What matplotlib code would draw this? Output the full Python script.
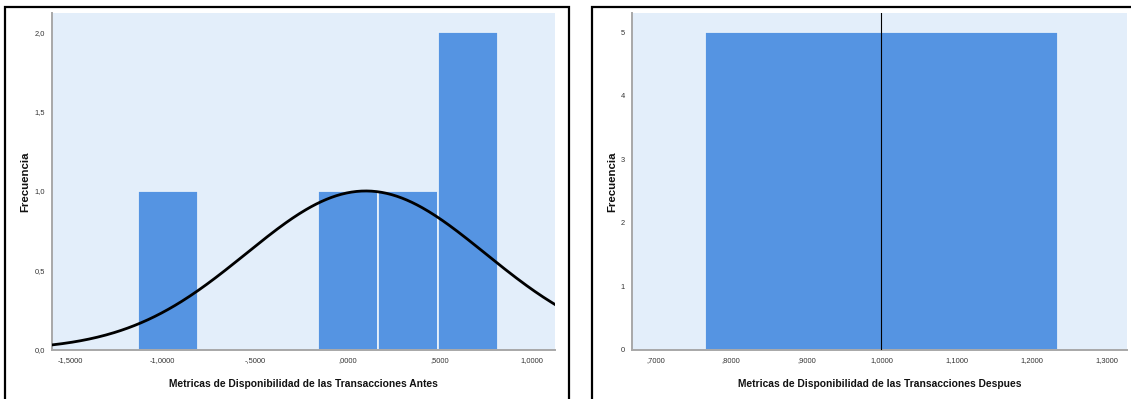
import matplotlib.pyplot as plt
import matplotlib.patches as patches
import numpy as np

plt.rcParams['font.family'] = ['Liberation Sans', 'DejaVu Sans']

# histogram "Antes": bin edges and counts
antes_edges = [-1.135, -0.81, -0.485, -0.16, 0.165, 0.49, 0.816]
antes_counts = [1, 0, 0, 1, 1, 2]
antes_mean = 0.10
antes_sd = 0.648
antes_xticks = [-1.5, -1.0, -0.5, 0.0, 0.5, 1.0]
antes_xlabels = ['-1,5000', '-1,0000', '-,5000', ',0000', ',5000', '1,0000']
antes_yticks = [0.0, 0.5, 1.0, 1.5, 2.0]
antes_ylabels = ['0,0', '0,5', '1,0', '1,5', '2,0']

# histogram "Despues": every value is 1, one bin
despues_edges = [0.765, 1.235]
despues_counts = [5]
despues_mean = 1.0
despues_xticks = [0.7, 0.8, 0.9, 1.0, 1.1, 1.2, 1.3]
despues_xlabels = [',7000', ',8000', ',9000', '1,0000', '1,1000', '1,2000', '1,3000']
despues_yticks = [0, 1, 2, 3, 4, 5]
despues_ylabels = ['0', '1', '2', '3', '4', '5']

BG = '#E3EEFA'
BAR = '#5594E2'
EDGE = '#E6F0FB'
W, H = 1131, 399


def style_axes(ax, xticks, xlabels, yticks, ylabels, xlabel, ylab_x):
    ax.set_facecolor(BG)
    for side in ['top', 'right']:
        ax.spines[side].set_visible(False)
    for side in ['left', 'bottom']:
        ax.spines[side].set_color('#A8A8A8')
        ax.spines[side].set_linewidth(1.4)
    ax.set_xticks(xticks)
    ax.set_xticklabels(xlabels)
    ax.set_yticks(yticks)
    ax.set_yticklabels(ylabels)
    ax.tick_params(length=0, labelsize=5.4, colors='#333333', pad=5)
    ax.set_xlabel(xlabel, fontsize=7.4, fontweight='bold', color='#111111',
                  labelpad=11)
    ax.set_ylabel('Frecuencia', fontsize=8.2, fontweight='bold',
                  color='#111111')
    ax.yaxis.set_label_coords(ylab_x, 0.5)


def draw_hist(ax, edges, counts):
    edges = np.array(edges)
    ax.bar(edges[:-1], counts, width=np.diff(edges), align='edge',
           color=BAR, edgecolor=EDGE, linewidth=1.3, zorder=2)


fig = plt.figure(figsize=(W / 100, H / 100), dpi=100)

# left panel
ax1 = fig.add_axes([52 / W, 1 - 350 / H, 503 / W, 337 / H])
draw_hist(ax1, antes_edges, antes_counts)
n = sum(antes_counts)
bw = antes_edges[1] - antes_edges[0]
xs = np.linspace(-1.6, 1.125, 300)
ys = n * bw * np.exp(-0.5 * ((xs - antes_mean) / antes_sd) ** 2) / (antes_sd * np.sqrt(2 * np.pi))
ax1.plot(xs, ys, color='black', lw=2.0, zorder=3)
ax1.set_xlim(-1.6, 1.125)
ax1.set_ylim(0, 2.12)
style_axes(ax1, antes_xticks, antes_xlabels, antes_yticks, antes_ylabels,
           'Metricas de Disponibilidad de las Transacciones Antes', -0.044)

# right panel
ax2 = fig.add_axes([632 / W, 1 - 350 / H, 495 / W, 337 / H])
draw_hist(ax2, despues_edges, despues_counts)
ax2.axvline(despues_mean, color='black', lw=0.8, zorder=3)
ax2.set_xlim(0.668, 1.327)
ax2.set_ylim(0, 5.3)
style_axes(ax2, despues_xticks, despues_xlabels, despues_yticks, despues_ylabels,
           'Metricas de Disponibilidad de las Transacciones Despues', -0.029)

# black frames round each panel (bottom edge is cut off in the original)
for x0, x1 in [(5, 569), (592, 1160)]:
    fig.patches.append(patches.Rectangle(
        (x0 / W, -0.1), (x1 - x0) / W, 1.1 - 7 / H,
        transform=fig.transFigure, fill=False, edgecolor='black',
        linewidth=1.6, clip_on=False))

fig.savefig('out.png', dpi=100)
